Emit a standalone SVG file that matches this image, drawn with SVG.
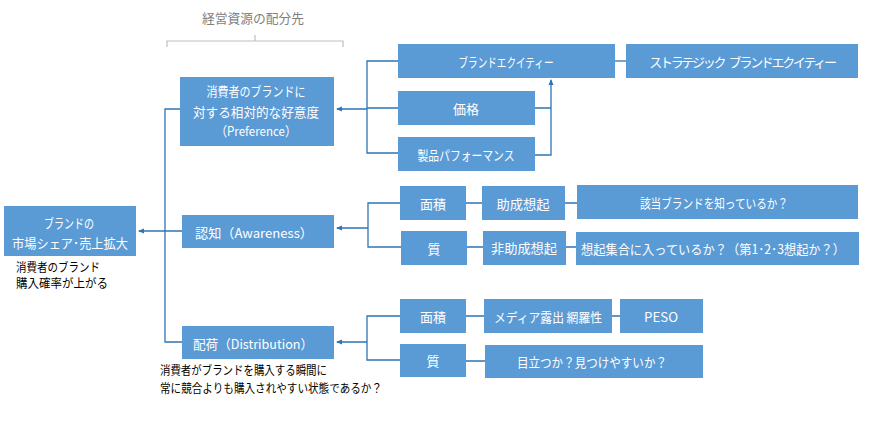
<svg xmlns="http://www.w3.org/2000/svg" width="869" height="446" viewBox="0 0 869 446">
<style>
.box{fill:#5b9bd5}
.t{font-family:"Noto Sans CJK JP","Liberation Sans",sans-serif;font-size:13px;fill:#fff;text-anchor:middle;dominant-baseline:central}
.tl{text-anchor:start}
.note{font-family:"Noto Sans CJK JP","Liberation Sans",sans-serif;font-size:12px;fill:#000}
.c{fill:none;stroke:#2e75b6;stroke-width:1.3}
</style>
<defs>
<marker id="ah" markerWidth="6" markerHeight="6" refX="5" refY="3" orient="auto" markerUnits="userSpaceOnUse">
<path d="M0,0.5 L6,3 L0,5.5 z" fill="#2e75b6"/>
</marker>
</defs>
<rect width="869" height="446" fill="#fff"/>
<g id="header">
<text x="253" y="17" font-family="'Noto Sans CJK JP',sans-serif" font-size="13" fill="#7f7f7f" text-anchor="middle" dominant-baseline="central" textLength="102" lengthAdjust="spacingAndGlyphs">経営資源の配分先</text>
<path d="M167,47 V41 H343 V47 M255,41 V35" fill="none" stroke="#bfbfbf" stroke-width="1.2"/>
</g>
<g id="connectors">
<path class="c" d="M182,342 H165 V109 H180"/>
<path class="c" d="M182,231 H139" marker-end="url(#ah)"/>
<path class="c" d="M398,61 H367 V153 H398 M398,108 H367 M367,109 H337" marker-end="url(#ah)"/>
<path class="c" d="M615,61 H626"/>
<path class="c" d="M535,108 H551 M535,155 H551 V80" marker-end="url(#ah)"/>
<path class="c" d="M400,203 H368 V247 H401 M368,228 H337" marker-end="url(#ah)"/>
<path class="c" d="M466,203 H482 M565,203 H577 M467,247 H483 M566,247 H576"/>
<path class="c" d="M400,316 H367 V360 H400 M367,342 H337" marker-end="url(#ah)"/>
<path class="c" d="M466,316 H484 M612,316 H620 M466,361 H485"/>
</g>
<g id="n-sales">
<rect class="box" x="4" y="206" width="132" height="50"/>
<text class="t" x="69" y="222" textLength="50" lengthAdjust="spacingAndGlyphs">ブランドの</text>
<text class="t" x="70" y="242" textLength="116" lengthAdjust="spacingAndGlyphs">市場シェア･売上拡大</text>
<text class="note" x="16" y="272" textLength="84" lengthAdjust="spacingAndGlyphs">消費者のブランド</text>
<text class="note" x="16" y="288" textLength="92" lengthAdjust="spacingAndGlyphs">購入確率が上がる</text>
</g>
<g id="n-preference">
<rect class="box" x="180" y="77" width="154" height="69"/>
<text class="t" x="256" y="90" textLength="99" lengthAdjust="spacingAndGlyphs">消費者のブランドに</text>
<text class="t" x="256" y="111" textLength="126" lengthAdjust="spacingAndGlyphs">対する相対的な好意度</text>
<text class="t" x="256" y="130" textLength="81" lengthAdjust="spacingAndGlyphs">（Preference）</text>
</g>
<g id="n-awareness">
<rect class="box" x="182" y="215" width="152" height="33"/>
<text class="t" x="254" y="232" textLength="118" lengthAdjust="spacingAndGlyphs">認知（Awareness）</text>
</g>
<g id="n-distribution">
<rect class="box" x="182" y="326" width="152" height="33"/>
<text class="t" x="253" y="343" textLength="120" lengthAdjust="spacingAndGlyphs">配荷（Distribution）</text>
<text class="note" x="160" y="375" textLength="167" lengthAdjust="spacingAndGlyphs">消費者がブランドを購入する瞬間に</text>
<text class="note" x="160" y="393" textLength="222" lengthAdjust="spacingAndGlyphs">常に競合よりも購入されやすい状態であるか？</text>
</g>
<g id="n-equity">
<rect class="box" x="398" y="44" width="217" height="34"/>
<text class="t" x="506" y="61" textLength="95" lengthAdjust="spacingAndGlyphs">ブランドエクイティー</text>
</g>
<g id="n-strategic">
<rect class="box" x="626" y="44" width="232" height="34"/>
<text class="t" x="742" y="61" font-size="12" letter-spacing="-2.3">ストラテジック <tspan dx="4">ブランドエクイティー</tspan></text>
</g>
<g id="n-price">
<rect class="box" x="398" y="91" width="137" height="34"/>
<text class="t" x="466" y="108">価格</text>
</g>
<g id="n-performance">
<rect class="box" x="398" y="137" width="137" height="34"/>
<text class="t" x="466" y="154" textLength="97" lengthAdjust="spacingAndGlyphs">製品パフォーマンス</text>
</g>
<g id="n-aw-area">
<rect class="box" x="400" y="186" width="66" height="34"/>
<text class="t" x="433" y="203">面積</text>
</g>
<g id="n-aw-quality">
<rect class="box" x="401" y="231" width="66" height="34"/>
<text class="t" x="434" y="248">質</text>
</g>
<g id="n-aided">
<rect class="box" x="482" y="186" width="83" height="34"/>
<text class="t" x="523" y="203" textLength="53" lengthAdjust="spacingAndGlyphs">助成想起</text>
</g>
<g id="n-unaided">
<rect class="box" x="483" y="231" width="83" height="34"/>
<text class="t" x="524" y="247" textLength="66" lengthAdjust="spacingAndGlyphs">非助成想起</text>
</g>
<g id="n-know">
<rect class="box" x="577" y="185" width="281" height="34"/>
<text class="t" x="714" y="202" textLength="148" lengthAdjust="spacingAndGlyphs">該当ブランドを知っているか？</text>
</g>
<g id="n-recall">
<rect class="box" x="576" y="232" width="283" height="33"/>
<text class="t tl" x="581" y="248" textLength="264" lengthAdjust="spacingAndGlyphs">想起集合に入っているか？（第1･2･3想起か？）</text>
</g>
<g id="n-di-area">
<rect class="box" x="400" y="299" width="66" height="34"/>
<text class="t" x="433" y="316">面積</text>
</g>
<g id="n-di-quality">
<rect class="box" x="400" y="344" width="66" height="33"/>
<text class="t" x="433" y="360">質</text>
</g>
<g id="n-media">
<rect class="box" x="484" y="299" width="128" height="34"/>
<text class="t" x="548" y="316" textLength="108" lengthAdjust="spacingAndGlyphs">メディア露出 網羅性</text>
</g>
<g id="n-peso">
<rect class="box" x="620" y="299" width="83" height="34"/>
<text class="t" x="661" y="316" textLength="34" lengthAdjust="spacingAndGlyphs">PESO</text>
</g>
<g id="n-visible">
<rect class="box" x="485" y="345" width="218" height="33"/>
<text class="t" x="592" y="361" textLength="150" lengthAdjust="spacingAndGlyphs">目立つか？見つけやすいか？</text>
</g>
</svg>
